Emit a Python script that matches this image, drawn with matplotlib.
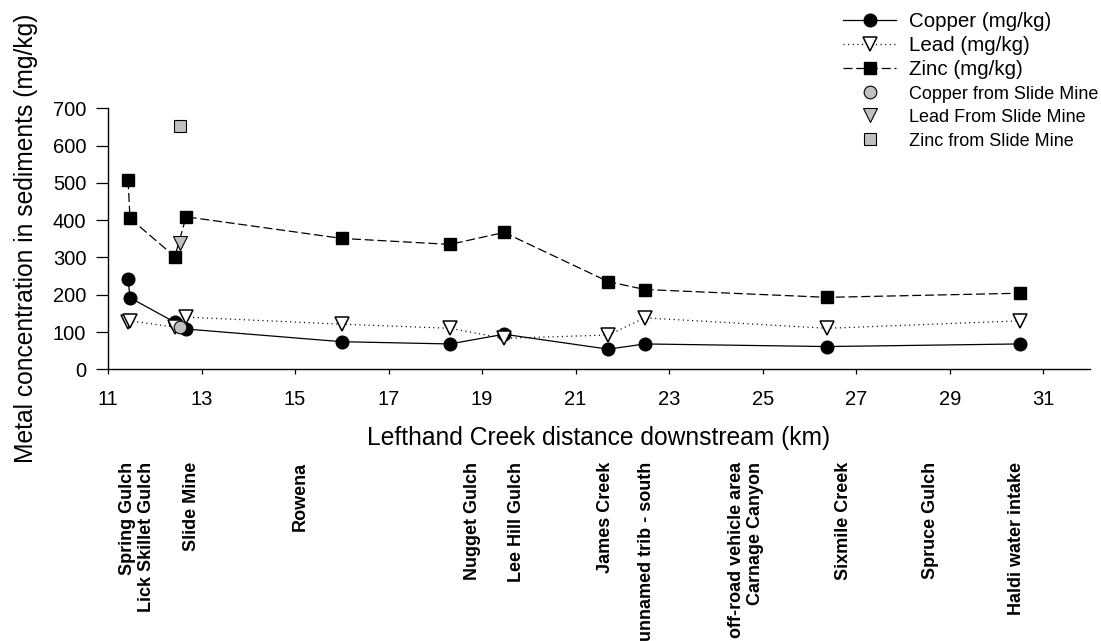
import matplotlib
matplotlib.use("Agg")
import matplotlib.pyplot as plt
from matplotlib.transforms import blended_transform_factory

plt.rcParams['font.family'] = ['Liberation Sans', 'DejaVu Sans']

# Sampling sites along Lefthand Creek (km downstream)
distance_km = [11.43, 11.47, 12.43, 12.67, 16.0, 18.31, 19.47, 21.70, 22.48, 26.38, 30.50]
copper = [242, 192, 126, 108, 74, 68, 94, 54, 68, 61, 68]
lead = [128, 130, 113, 140, 121, 110, 83, 92, 138, 110, 130]
zinc = [507, 405, 302, 409, 351, 335, 367, 235, 214, 193, 204]

# Slide Mine waste sample
slide_km = [12.54]
slide_copper = [114]
slide_lead = [338]
slide_zinc = [653]

# Site names written under the axis
site_labels = ["Spring Gulch\nLick Skillet Gulch", "Slide Mine", "Rowena", "Nugget Gulch",
               "Lee Hill Gulch", "James Creek", "unnamed trib - south",
               "off-road vehicle area\nCarnage Canyon", "Sixmile Creek", "Spruce Gulch",
               "Haldi water intake"]
site_km = [11.62, 12.79, 15.11, 18.80, 19.74, 21.63, 22.52, 24.64, 26.72, 28.58, 30.43]

x_ticks = list(range(11, 32, 2))
y_ticks = list(range(0, 701, 100))

W, H = 1101, 641
fig = plt.figure(figsize=(W / 100, H / 100), dpi=100)
ax = fig.add_axes([108 / W, 1 - 369.3 / H, (1090 - 108) / W, (369.3 - 108.3) / H])

gray = '#c0c0c0'
lw = 0.9
cu, = ax.plot(distance_km, copper, color='black', lw=lw, ls='-', marker='o', ms=9.1,
              mfc='black', mec='black', label='Copper (mg/kg)')
pb, = ax.plot(distance_km, lead, color='black', lw=lw, ls=(0, (0.9, 2.8)), marker='v', ms=9.4,
              mfc='white', mec='black', mew=1.1, label='Lead (mg/kg)')
zn, = ax.plot(distance_km, zinc, color='black', lw=lw, ls=(0, (7.2, 3.0)), marker='s', ms=8.4,
              mfc='black', mec='black', label='Zinc (mg/kg)')

s_cu, = ax.plot(slide_km, slide_copper, ls='none', marker='o', ms=9.1, mfc=gray, mec='black',
                mew=0.8, label='Copper from Slide Mine', zorder=5)
s_pb, = ax.plot(slide_km, slide_lead, ls='none', marker='v', ms=9.4, mfc=gray, mec='black',
                mew=0.8, label='Lead From Slide Mine', zorder=5)
s_zn, = ax.plot(slide_km, slide_zinc, ls='none', marker='s', ms=8.4, mfc=gray, mec='black',
                mew=0.8, label='Zinc from Slide Mine', zorder=5)

ax.set_xlim(11, 32)
ax.set_ylim(0, 700)
ax.set_xticks(x_ticks)
ax.set_yticks(y_ticks)
for s in ['top', 'right']:
    ax.spines[s].set_visible(False)
for s in ['left', 'bottom']:
    ax.spines[s].set_linewidth(1.0)
ax.tick_params(axis='y', direction='out', length=8.4, width=0.9, pad=7.2, labelsize=14.5)
ax.tick_params(axis='x', direction='out', length=3.6, width=0.9, pad=11.0, labelsize=14.5)

ax.set_xlabel('Lefthand Creek distance downstream (km)', fontsize=17.7)
ax.xaxis.set_label_coords(0.5, (369.3 - 426) / 261)
ax.set_ylabel('Metal concentration in sediments (mg/kg)', fontsize=17.7)
ax.yaxis.set_label_coords((38 - 108) / 982, 0.5)

# Site names, rotated and hanging from a fixed height below the axis
trans = blended_transform_factory(ax.transData, fig.transFigure)
for name, xk in zip(site_labels, site_km):
    ax.text(xk, 1 - 462 / H, name, transform=trans, rotation=90, ha='center', va='top',
            multialignment='right', fontsize=13, fontweight='bold', clip_on=False)

leg = fig.legend(handles=[cu, pb, zn, s_cu, s_pb, s_zn], loc='upper left',
                 bbox_to_anchor=(843 / W, 1 - 12 / H), frameon=False, fontsize=14.8,
                 borderpad=0, borderaxespad=0, handlelength=2.6, handletextpad=0.6,
                 labelspacing=0.25)
for t in leg.get_texts()[3:]:
    t.set_fontsize(13)

fig.savefig('out.png', dpi=100)
